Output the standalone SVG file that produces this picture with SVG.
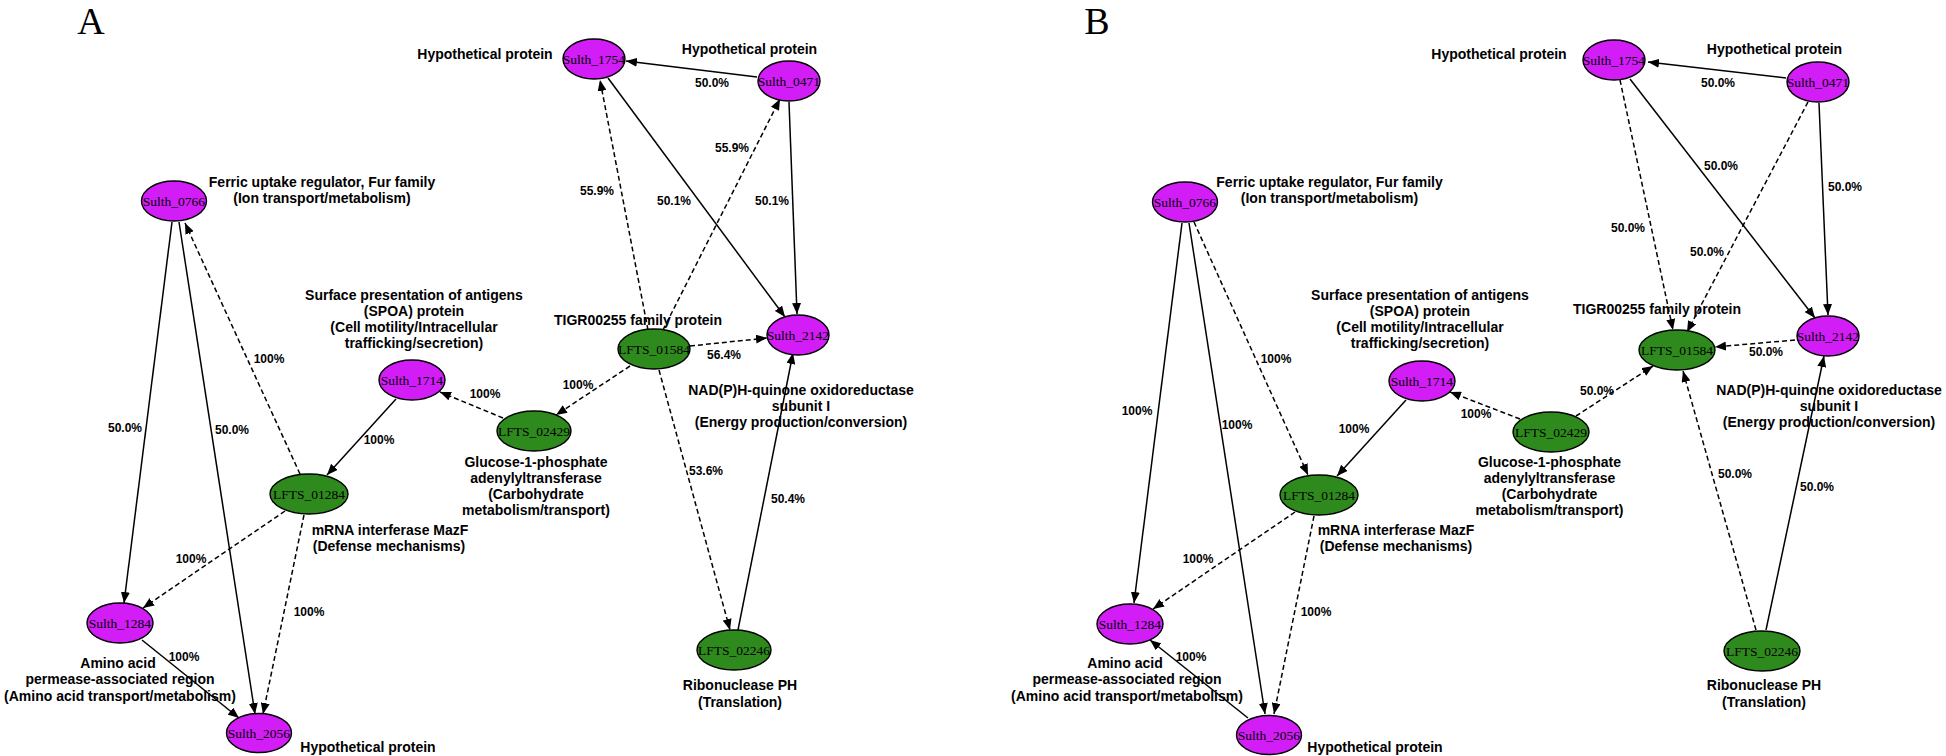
<svg xmlns="http://www.w3.org/2000/svg" width="1946" height="756" viewBox="0 0 1946 756">
<style>
.bg{fill:#ffffff}
.m{fill:#d21df7;stroke:#000;stroke-width:1.4}
.g{fill:#2f8a1d;stroke:#000;stroke-width:1.4}
.nt{font-family:"Liberation Serif","Times New Roman",serif;font-size:13.5px;fill:#000;text-anchor:middle}
.lab{font-family:"Liberation Sans",Arial,sans-serif;font-weight:bold;font-size:14px;fill:#000;text-anchor:middle}
.el{font-family:"Liberation Sans",Arial,sans-serif;font-weight:bold;font-size:12px;fill:#000;text-anchor:middle}
.pl{font-family:"Liberation Serif","Times New Roman",serif;font-size:38px;fill:#000;text-anchor:middle}
.s{stroke:#000;stroke-width:1.5;fill:none;marker-end:url(#ah)}
.d{stroke:#000;stroke-width:1.5;fill:none;stroke-dasharray:5,3;marker-end:url(#ah)}
</style>
<defs>
<marker id="ah" markerUnits="userSpaceOnUse" markerWidth="11" markerHeight="9" viewBox="0 0 11 9" refX="11" refY="4.5" orient="auto">
<path d="M0,0 L11,4.5 L0,9 z" fill="#000"/>
</marker>
</defs>
<rect class="bg" x="0" y="0" width="1946" height="756"/>
<text class="pl" x="91" y="34">A</text>
<text class="pl" x="1097" y="34">B</text>

<g id="connectors">
<!-- Panel A -->
<line class="s" x1="172" y1="222" x2="124" y2="603"/>
<line class="s" x1="179" y1="222" x2="255" y2="714"/>
<line class="d" x1="300" y1="474" x2="185" y2="223"/>
<line class="s" x1="396" y1="399" x2="327" y2="475"/>
<line class="d" x1="503" y1="418" x2="440" y2="392"/>
<line class="d" x1="285" y1="511" x2="143" y2="608"/>
<line class="d" x1="304" y1="515" x2="263" y2="714"/>
<line class="s" x1="142" y1="640" x2="239" y2="718"/>
<line class="s" x1="757" y1="77" x2="626" y2="61"/>
<line class="d" x1="648" y1="330" x2="600" y2="80"/>
<line class="d" x1="663" y1="330" x2="780" y2="99"/>
<line class="s" x1="608" y1="78" x2="785" y2="317"/>
<line class="s" x1="789" y1="102" x2="797" y2="314"/>
<line class="d" x1="690" y1="346" x2="767" y2="338"/>
<line class="d" x1="630" y1="366" x2="556" y2="415"/>
<line class="d" x1="659" y1="370" x2="730" y2="630"/>
<line class="s" x1="738" y1="630" x2="793" y2="353"/>
<!-- Panel B -->
<line class="s" x1="1182" y1="223" x2="1134" y2="603"/>
<line class="s" x1="1189" y1="223" x2="1265" y2="714"/>
<line class="d" x1="1194" y1="222" x2="1308" y2="475"/>
<line class="s" x1="1406" y1="400" x2="1337" y2="476"/>
<line class="d" x1="1520" y1="419" x2="1450" y2="392"/>
<line class="d" x1="1295" y1="512" x2="1153" y2="609"/>
<line class="d" x1="1314" y1="516" x2="1274" y2="714"/>
<line class="s" x1="1248" y1="718" x2="1150" y2="640"/>
<line class="s" x1="1786" y1="78" x2="1648" y2="62"/>
<line class="d" x1="1620" y1="80" x2="1673" y2="330"/>
<line class="d" x1="1808" y1="102" x2="1687" y2="332"/>
<line class="s" x1="1630" y1="79" x2="1815" y2="318"/>
<line class="s" x1="1819" y1="103" x2="1828" y2="315"/>
<line class="d" x1="1795" y1="340" x2="1715" y2="347"/>
<line class="d" x1="1576" y1="416" x2="1653" y2="366"/>
<line class="d" x1="1756" y1="630" x2="1683" y2="371"/>
<line class="s" x1="1766" y1="630" x2="1824" y2="356"/>
</g>

<g id="edge-labels">
<text class="el" x="269" y="363">100%</text>
<text class="el" x="485" y="398">100%</text>
<text class="el" x="125" y="432">50.0%</text>
<text class="el" x="232" y="434">50.0%</text>
<text class="el" x="379" y="444">100%</text>
<text class="el" x="191" y="563">100%</text>
<text class="el" x="309" y="616">100%</text>
<text class="el" x="184" y="661">100%</text>
<text class="el" x="712" y="87">50.0%</text>
<text class="el" x="732" y="152">55.9%</text>
<text class="el" x="597" y="195">55.9%</text>
<text class="el" x="674" y="205">50.1%</text>
<text class="el" x="772" y="205">50.1%</text>
<text class="el" x="724" y="359">56.4%</text>
<text class="el" x="578" y="389">100%</text>
<text class="el" x="706" y="475">53.6%</text>
<text class="el" x="788" y="503">50.4%</text>

<text class="el" x="1276" y="363">100%</text>
<text class="el" x="1137" y="415">100%</text>
<text class="el" x="1237" y="429">100%</text>
<text class="el" x="1354" y="433">100%</text>
<text class="el" x="1476" y="418">100%</text>
<text class="el" x="1198" y="563">100%</text>
<text class="el" x="1316" y="616">100%</text>
<text class="el" x="1191" y="661">100%</text>
<text class="el" x="1718" y="87">50.0%</text>
<text class="el" x="1721" y="170">50.0%</text>
<text class="el" x="1845" y="191">50.0%</text>
<text class="el" x="1628" y="232">50.0%</text>
<text class="el" x="1707" y="256">50.0%</text>
<text class="el" x="1766" y="356">50.0%</text>
<text class="el" x="1597" y="395">50.0%</text>
<text class="el" x="1735" y="478">50.0%</text>
<text class="el" x="1817" y="491">50.0%</text>
</g>

<!-- Panel A nodes -->
<g id="A-Sulth_0766">
<ellipse class="m" cx="174" cy="201" rx="32.5" ry="20"/>
<text class="nt" x="174" y="205.5">Sulth_0766</text>
<text class="lab" x="322" y="187">Ferric uptake regulator, Fur family</text>
<text class="lab" x="322" y="203">(Ion transport/metabolism)</text>
</g>
<g id="A-Sulth_1714">
<ellipse class="m" cx="412" cy="380" rx="33" ry="20"/>
<text class="nt" x="412" y="384.5">Sulth_1714</text>
<text class="lab" x="414" y="300">Surface presentation of antigens</text>
<text class="lab" x="414" y="316">(SPOA) protein</text>
<text class="lab" x="414" y="332">(Cell motility/Intracellular</text>
<text class="lab" x="414" y="348">trafficking/secretion)</text>
</g>
<g id="A-Sulth_1284">
<ellipse class="m" cx="120" cy="623" rx="33" ry="20"/>
<text class="nt" x="120" y="627.5">Sulth_1284</text>
<text class="lab" x="118" y="668">Amino acid</text>
<text class="lab" x="120" y="684">permease-associated region</text>
<text class="lab" x="120" y="701">(Amino acid transport/metabolism)</text>
</g>
<g id="A-Sulth_2056">
<ellipse class="m" cx="259" cy="733" rx="32.5" ry="19.5"/>
<text class="nt" x="259" y="737.5">Sulth_2056</text>
<text class="lab" x="368" y="752">Hypothetical protein</text>
</g>
<g id="A-LFTS_01284">
<ellipse class="g" cx="309" cy="494" rx="39" ry="20"/>
<text class="nt" x="309" y="498.5">LFTS_01284</text>
<text class="lab" x="390" y="535">mRNA interferase MazF</text>
<text class="lab" x="389" y="551">(Defense mechanisms)</text>
</g>
<g id="A-Sulth_1754">
<ellipse class="m" cx="594" cy="59" rx="31" ry="20"/>
<text class="nt" x="594" y="63.5">Sulth_1754</text>
<text class="lab" x="485" y="58.5">Hypothetical protein</text>
</g>
<g id="A-Sulth_0471">
<ellipse class="m" cx="789" cy="81" rx="31" ry="20"/>
<text class="nt" x="789" y="85.5">Sulth_0471</text>
<text class="lab" x="749.5" y="54">Hypothetical protein</text>
</g>
<g id="A-Sulth_2142">
<ellipse class="m" cx="798" cy="335" rx="31" ry="20"/>
<text class="nt" x="798" y="339.5">Sulth_2142</text>
<text class="lab" x="801" y="395">NAD(P)H-quinone oxidoreductase</text>
<text class="lab" x="801" y="411">subunit I</text>
<text class="lab" x="801" y="427">(Energy production/conversion)</text>
</g>
<g id="A-LFTS_01584">
<ellipse class="g" cx="654" cy="349" rx="36" ry="20"/>
<text class="nt" x="654" y="353.5">LFTS_01584</text>
<text class="lab" x="638" y="325">TIGR00255 family protein</text>
</g>
<g id="A-LFTS_02429">
<ellipse class="g" cx="534" cy="431" rx="37" ry="20"/>
<text class="nt" x="534" y="435.5">LFTS_02429</text>
<text class="lab" x="536" y="467">Glucose-1-phosphate</text>
<text class="lab" x="536" y="483">adenylyltransferase</text>
<text class="lab" x="536" y="499">(Carbohydrate</text>
<text class="lab" x="536" y="515">metabolism/transport)</text>
</g>
<g id="A-LFTS_02246">
<ellipse class="g" cx="734" cy="650" rx="37" ry="20"/>
<text class="nt" x="734" y="654.5">LFTS_02246</text>
<text class="lab" x="740" y="690">Ribonuclease PH</text>
<text class="lab" x="740" y="707">(Translation)</text>
</g>

<!-- Panel B nodes -->
<g id="B-Sulth_0766">
<ellipse class="m" cx="1185" cy="202" rx="32.5" ry="20"/>
<text class="nt" x="1185" y="206.5">Sulth_0766</text>
<text class="lab" x="1329.5" y="187">Ferric uptake regulator, Fur family</text>
<text class="lab" x="1329.5" y="203">(Ion transport/metabolism)</text>
</g>
<g id="B-Sulth_1714">
<ellipse class="m" cx="1422" cy="381" rx="33" ry="20"/>
<text class="nt" x="1422" y="385.5">Sulth_1714</text>
<text class="lab" x="1420" y="300">Surface presentation of antigens</text>
<text class="lab" x="1420" y="316">(SPOA) protein</text>
<text class="lab" x="1420" y="332">(Cell motility/Intracellular</text>
<text class="lab" x="1420" y="348">trafficking/secretion)</text>
</g>
<g id="B-Sulth_1284">
<ellipse class="m" cx="1130" cy="624" rx="33" ry="20"/>
<text class="nt" x="1130" y="628.5">Sulth_1284</text>
<text class="lab" x="1125" y="668">Amino acid</text>
<text class="lab" x="1127" y="684">permease-associated region</text>
<text class="lab" x="1127" y="701">(Amino acid transport/metabolism)</text>
</g>
<g id="B-Sulth_2056">
<ellipse class="m" cx="1269" cy="735" rx="32.5" ry="19.5"/>
<text class="nt" x="1269" y="739.5">Sulth_2056</text>
<text class="lab" x="1375" y="752">Hypothetical protein</text>
</g>
<g id="B-LFTS_01284">
<ellipse class="g" cx="1319" cy="495" rx="39" ry="20"/>
<text class="nt" x="1319" y="499.5">LFTS_01284</text>
<text class="lab" x="1396" y="535">mRNA interferase MazF</text>
<text class="lab" x="1396" y="551">(Defense mechanisms)</text>
</g>
<g id="B-Sulth_1754">
<ellipse class="m" cx="1614" cy="60" rx="31" ry="20"/>
<text class="nt" x="1614" y="64.5">Sulth_1754</text>
<text class="lab" x="1499" y="58.5">Hypothetical protein</text>
</g>
<g id="B-Sulth_0471">
<ellipse class="m" cx="1818" cy="82" rx="31" ry="20"/>
<text class="nt" x="1818" y="86.5">Sulth_0471</text>
<text class="lab" x="1774.5" y="54">Hypothetical protein</text>
</g>
<g id="B-Sulth_2142">
<ellipse class="m" cx="1828" cy="336" rx="31" ry="20"/>
<text class="nt" x="1828" y="340.5">Sulth_2142</text>
<text class="lab" x="1829" y="395">NAD(P)H-quinone oxidoreductase</text>
<text class="lab" x="1829" y="411">subunit I</text>
<text class="lab" x="1829" y="427">(Energy production/conversion)</text>
</g>
<g id="B-LFTS_01584">
<ellipse class="g" cx="1677" cy="350" rx="38" ry="20"/>
<text class="nt" x="1677" y="354.5">LFTS_01584</text>
<text class="lab" x="1657" y="314">TIGR00255 family protein</text>
</g>
<g id="B-LFTS_02429">
<ellipse class="g" cx="1551" cy="432" rx="38" ry="20"/>
<text class="nt" x="1551" y="436.5">LFTS_02429</text>
<text class="lab" x="1549.5" y="467">Glucose-1-phosphate</text>
<text class="lab" x="1549.5" y="483">adenylyltransferase</text>
<text class="lab" x="1549.5" y="499">(Carbohydrate</text>
<text class="lab" x="1549.5" y="515">metabolism/transport)</text>
</g>
<g id="B-LFTS_02246">
<ellipse class="g" cx="1762" cy="651" rx="38" ry="20"/>
<text class="nt" x="1762" y="655.5">LFTS_02246</text>
<text class="lab" x="1764" y="690">Ribonuclease PH</text>
<text class="lab" x="1764" y="707">(Translation)</text>
</g>
</svg>
